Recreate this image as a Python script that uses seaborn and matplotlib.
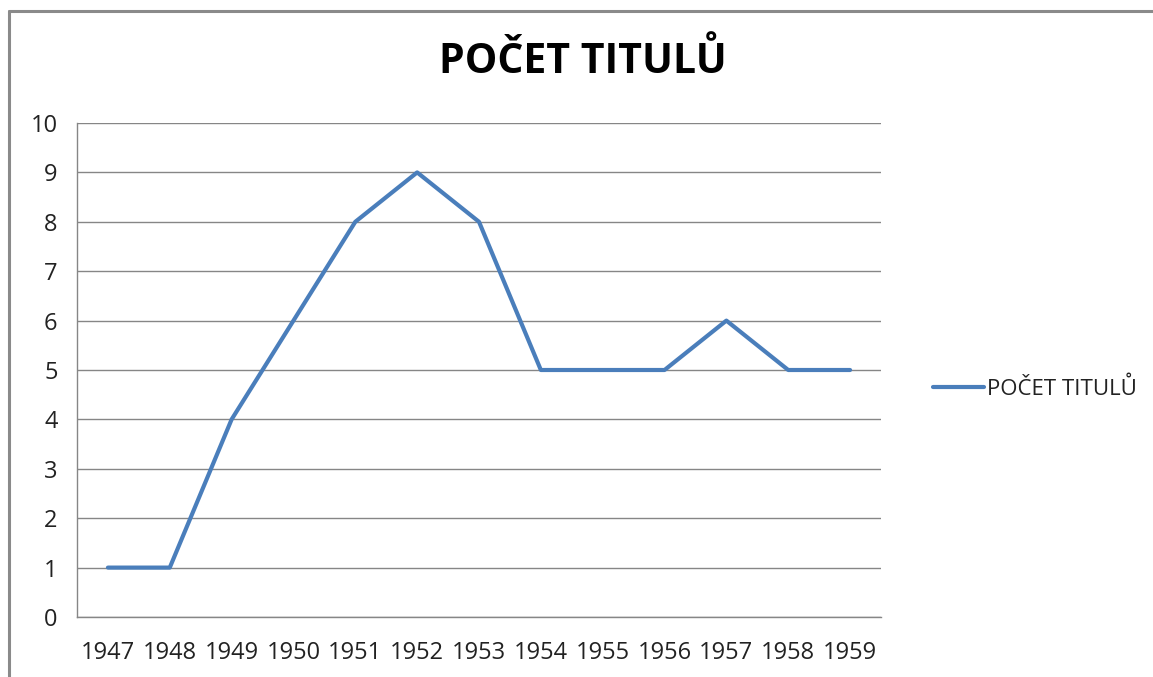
import matplotlib
matplotlib.use("Agg")
import matplotlib.pyplot as plt
from matplotlib.lines import Line2D
import seaborn as sns
import numpy as np
import pandas as pd

years = ["1947", "1948", "1949", "1950", "1951", "1952", "1953",
         "1954", "1955", "1956", "1957", "1958", "1959"]
titles = [1, 1, 4, 6, 8, 9, 8, 5, 5, 5, 6, 5, 5]
series_name = "POČET TITULŮ"

sns.set_theme(style="white")
plt.rcParams['font.family'] = ['Open Sans', 'DejaVu Sans']

W, H = 1153, 677
fig = plt.figure(figsize=(W / 100, H / 100), dpi=100)
ax = fig.add_axes([77 / W, 1 - 617 / H, (881 - 77) / W, (617 - 123) / H])

df = pd.DataFrame({"pos": np.arange(len(years)), "val": titles})
sns.lineplot(data=df, x="pos", y="val", ax=ax, color="#4A7EBB",
             linewidth=3.0, label=series_name)

grey = "#868686"
ax.set_xlim(-0.5, len(years) - 0.5)
ax.set_ylim(0, 10)
ax.set_yticks(range(0, 11))
ax.yaxis.grid(True, color=grey, linewidth=1)
ax.set_axisbelow(True)

# category boundaries as major ticks, labels on minor ticks
ax.set_xticks(np.arange(-0.5, len(years), 1.0))
ax.set_xticklabels([])
ax.set_xticks(np.arange(len(years)), minor=True)
ax.set_xticklabels(years, minor=True)
ax.tick_params(axis="x", which="major", length=7, width=1, color=grey, direction="out")
ax.tick_params(axis="x", which="minor", length=0, pad=17, labelsize=17, labelcolor="#222222")
ax.tick_params(axis="y", length=7, width=1, color=grey, direction="out",
               pad=7, labelsize=17, labelcolor="#222222")

for side in ["top", "right"]:
    ax.spines[side].set_visible(False)
for side in ["left", "bottom"]:
    ax.spines[side].set_color(grey)
    ax.spines[side].set_linewidth(1)

ax.set_xlabel("")
ax.set_ylabel("")

fig.text(583 / W, 1 - 62 / H, series_name, ha="center", va="center",
         fontsize=29.5, fontweight="bold", color="black")

ax.legend(loc="center left", bbox_to_anchor=(913 / W, 1 - 389 / H),
          bbox_transform=fig.transFigure, frameon=False, fontsize=16,
          handlelength=2.3, handletextpad=0.15, labelcolor="#222222")

# chart frame (left and top edge)
fig.add_artist(Line2D([9 / W, 9 / W], [0, 1 - 11 / H], transform=fig.transFigure,
                      color="#8a8a8a", linewidth=2.2))
fig.add_artist(Line2D([9 / W, 1], [1 - 11 / H, 1 - 11 / H], transform=fig.transFigure,
                      color="#8a8a8a", linewidth=2.2))

fig.savefig("out.png", dpi=100)
